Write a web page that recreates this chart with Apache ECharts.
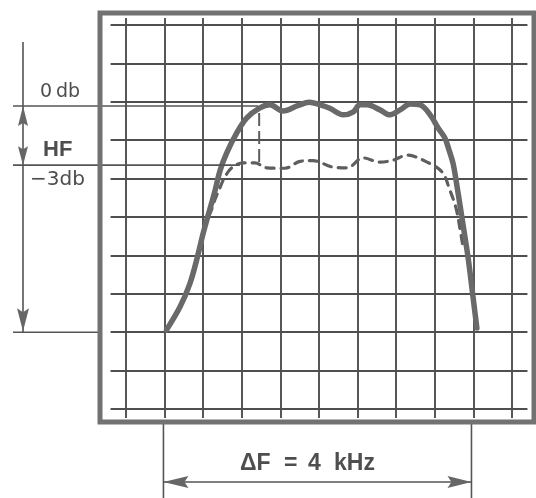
<!DOCTYPE html>
<html><head><meta charset="utf-8">
<script src="https://cdn.jsdelivr.net/npm/echarts/dist/echarts.min.js"></script>
<style>html,body{margin:0;padding:0;background:#fff}#c{width:536px;height:498px}</style>
</head><body><div id="c"></div>
<script>
// Screen units: divisions of the graticule (x: 10 div, y: 10 div, 0 = bottom line)
const solidX = [1.05, 1.40, 1.66, 1.83, 2.00, 2.13, 2.31, 2.44, 2.61, 2.87, 3.13, 3.47, 3.73, 4.07, 4.45, 4.75, 5.03, 5.28, 5.63, 5.89, 6.06, 6.24, 6.58, 6.84, 7.10, 7.36, 7.62, 7.88, 8.09, 8.26, 8.37, 8.47, 8.55, 8.70, 8.86, 8.99, 9.09];
const solidY = [2.06, 2.66, 3.28, 3.88, 4.58, 5.05, 5.70, 6.22, 6.67, 7.19, 7.58, 7.84, 7.92, 7.76, 7.90, 7.99, 7.92, 7.83, 7.66, 7.74, 7.92, 7.92, 7.79, 7.66, 7.79, 7.94, 7.92, 7.66, 7.31, 7.06, 6.74, 6.41, 5.96, 5.00, 3.96, 2.92, 2.11];
const dashedX = [2.13, 2.18, 2.31, 2.44, 2.56, 2.74, 3.03, 3.34, 3.65, 4.12, 4.51, 4.84, 5.36, 5.73, 6.14, 6.58, 6.92, 7.28, 7.80, 8.19, 8.39, 8.55, 8.65, 8.73];
const dashedY = [5.05, 5.10, 5.47, 5.78, 6.04, 6.28, 6.41, 6.41, 6.28, 6.27, 6.45, 6.47, 6.30, 6.28, 6.54, 6.43, 6.48, 6.61, 6.43, 6.17, 5.70, 5.23, 4.71, 4.22];
const markerX = [3.45, 3.45];
const markerY = [7.71, 6.41];
const refLabels = ['0db', '−3db'];
const refLevels = [7.89, 6.35];      // 0 dB and -3 dB levels
const refLineEnds = [3.42, 2.95];    // where the reference lines stop inside the screen
const baseLevel = 2.0;
const bandLabel = ['ΔF', '=', '4', 'kHz'];
const bandEdges = [0.97, 8.95];
const hfLabel = 'HF';

const zip = (a, b) => a.map((v, i) => [v, b[i]]);
const gridColor = '#4f4f4f';
const inkColor = '#696969';

const chart = echarts.init(document.getElementById('c'), null, {renderer: 'canvas'});
const option = {
  animation: false,
  backgroundColor: '#ffffff',
  grid: [
    {left: 126, width: 386, top: 18, height: 400, outerBoundsMode: 'none', containLabel: false},
    {left: 110.56, width: 416.88, top: 25, height: 384, outerBoundsMode: 'none', containLabel: false}
  ],
  xAxis: [
    {gridIndex: 0, type: 'value', min: 0, max: 10, interval: 1,
     axisLine: {show: false}, axisTick: {show: false}, axisLabel: {show: false},
     splitLine: {show: true, lineStyle: {color: gridColor, width: 1.9}}},
    {gridIndex: 1, type: 'value', min: -0.4, max: 10.4,
     axisLine: {show: false}, axisTick: {show: false}, axisLabel: {show: false},
     splitLine: {show: false}}
  ],
  yAxis: [
    {gridIndex: 0, type: 'value', min: 0, max: 1,
     axisLine: {show: false}, axisTick: {show: false}, axisLabel: {show: false},
     splitLine: {show: false}},
    {gridIndex: 1, type: 'value', min: 0, max: 10, interval: 1,
     axisLine: {show: false}, axisTick: {show: false}, axisLabel: {show: false},
     splitLine: {show: true, lineStyle: {color: gridColor, width: 1.9}}}
  ],
  series: [
    {type: 'line', xAxisIndex: 1, yAxisIndex: 1, data: zip(dashedX, dashedY),
     smooth: 0.35, symbol: 'none', z: 3,
     lineStyle: {color: '#5e5e5e', width: 3.2, type: [8, 7], cap: 'round'}},
    {type: 'line', xAxisIndex: 1, yAxisIndex: 1, data: zip(markerX, markerY),
     symbol: 'none', z: 3,
     lineStyle: {color: '#5e5e5e', width: 2, type: [13, 5]}},
    {type: 'line', xAxisIndex: 1, yAxisIndex: 1, data: zip(solidX, solidY),
     smooth: 0.35, symbol: 'none', z: 4,
     lineStyle: {color: inkColor, width: 5.5, cap: 'round', join: 'round'}}
  ]
};
chart.setOption(option);

const P = (x, y) => chart.convertToPixel({xAxisIndex: 1, yAxisIndex: 1}, [x, y]);
const yZero = P(0, refLevels[0])[1];
const yM3 = P(0, refLevels[1])[1];
const yBase = P(0, baseLevel)[1];
const ax = 23;
const lineStyle = {stroke: '#555', lineWidth: 1.6};
const headFill = '#666';
const g = [];
// frame
g.push({type: 'rect', shape: {x: 100, y: 13, width: 434, height: 409}, z: 50,
  style: {fill: null, stroke: '#727272', lineWidth: 5}});
// reference lines
g.push({type: 'line', shape: {x1: 13, y1: yZero, x2: P(refLineEnds[0], 0)[0], y2: yZero}, style: lineStyle, z: 40});
g.push({type: 'line', shape: {x1: 13, y1: yM3, x2: P(refLineEnds[1], 0)[0], y2: yM3}, style: lineStyle, z: 40});
g.push({type: 'line', shape: {x1: 13, y1: yBase, x2: 100, y2: yBase}, style: lineStyle, z: 40});
// vertical arrow
g.push({type: 'line', shape: {x1: ax, y1: 42, x2: ax, y2: yBase}, style: lineStyle, z: 40});
g.push({type: 'polygon', shape: {points: [[ax, yZero], [ax - 5, yZero + 20], [ax, yZero + 17], [ax + 5, yZero + 20]]}, style: {fill: headFill}, z: 41});
g.push({type: 'polygon', shape: {points: [[ax, yM3], [ax - 5, yM3 - 19], [ax, yM3 - 16], [ax + 5, yM3 - 19]]}, style: {fill: headFill}, z: 41});
g.push({type: 'polygon', shape: {points: [[ax, yBase - 1], [ax - 6, yBase - 24], [ax, yBase - 20], [ax + 6, yBase - 24]]}, style: {fill: headFill}, z: 41});
// texts
const txt = (t, x, y, size, weight, family) => ({type: 'text', z: 42,
  style: {text: t, x: x, y: y, fontSize: size, fontWeight: weight, fontFamily: family,
          fill: '#4e4e4e', align: 'left', verticalAlign: 'middle'}});
g.push(txt(refLabels[0].replace('0', '0\u2009'), 40, yZero - 14, 19, 'normal', 'DejaVu Sans'));
g.push(txt(hfLabel, 43, (yZero + yM3) / 2 + 14, 22, 'bold', 'Liberation Sans'));
g.push(txt(refLabels[1], 30, yM3 + 15, 20, 'normal', 'DejaVu Sans'));
// bandwidth annotation
const bx0 = P(bandEdges[0], 0)[0], bx1 = P(bandEdges[1], 0)[0];
const by = 482;
g.push({type: 'line', shape: {x1: bx0, y1: 424, x2: bx0, y2: 498}, style: lineStyle, z: 40});
g.push({type: 'line', shape: {x1: bx1, y1: 424, x2: bx1, y2: 498}, style: lineStyle, z: 40});
g.push({type: 'line', shape: {x1: bx0, y1: by, x2: bx1, y2: by}, style: lineStyle, z: 40});
g.push({type: 'polygon', shape: {points: [[bx0, by], [bx0 + 25, by - 6], [bx0 + 21, by], [bx0 + 25, by + 6]]}, style: {fill: headFill}, z: 41});
g.push({type: 'polygon', shape: {points: [[bx1, by], [bx1 - 24, by - 6], [bx1 - 20, by], [bx1 - 24, by + 6]]}, style: {fill: headFill}, z: 41});
const bxs = [240, 284, 308, 334];
bandLabel.forEach((t, i) => g.push(txt(t, bxs[i], 464, 23, 'bold', 'Liberation Sans')));
chart.setOption({graphic: g});
</script>
</body></html>
